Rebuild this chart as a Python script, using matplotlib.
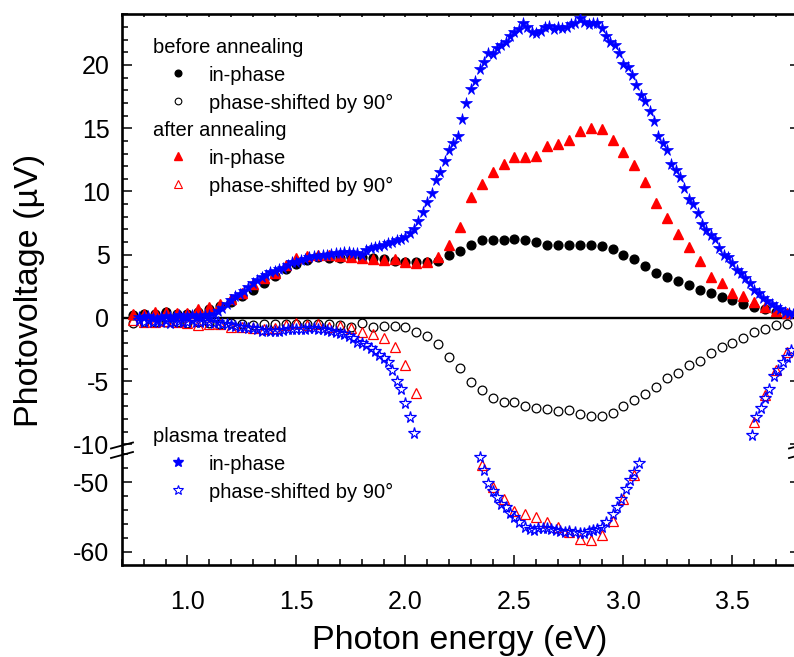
import numpy as np
import matplotlib
matplotlib.use("Agg")
import matplotlib.pyplot as plt
from matplotlib.lines import Line2D
from matplotlib.ticker import MultipleLocator

plt.rcParams["font.family"] = ["Liberation Sans", "DejaVu Sans"]
plt.rcParams["axes.unicode_minus"] = False

# ---- data (photon energy in eV, photovoltage in uV) ----
# before annealing, 0.75 .. 3.75 eV every 0.05
x_ann = np.round(np.arange(0.75, 3.76, 0.05), 2)
before_in = [0.25, 0.3, 0.35, 0.45, 0.35, 0.35, 0.5, 0.7, 0.95, 1.3,
             1.75, 2.2, 2.8, 3.3, 3.85, 4.3, 4.6, 4.85, 4.72, 4.77,
             4.85, 4.8, 4.72, 4.64, 4.53, 4.45, 4.45, 4.45, 4.5, 4.98,
             5.32, 5.77, 6.17, 6.17, 6.17, 6.22, 6.17, 6.0, 5.74, 5.79,
             5.74, 5.77, 5.77, 5.69, 5.43, 4.98, 4.69, 4.11, 3.58, 3.27,
             2.92, 2.58, 2.21, 1.95, 1.69, 1.42, 1.13, 0.90, 0.69, 0.50,
             0.32]
before_90 = [-0.4, -0.3, -0.35, -0.3, -0.35, -0.4, -0.35, -0.4, -0.45, -0.4,
             -0.5, -0.55, -0.47, -0.47, -0.47, -0.47, -0.47, -0.47, -0.47, -0.55,
             -0.69, -0.42, -0.69, -0.63, -0.63, -0.69, -1.08, -1.42, -2.03, -3.06,
             -3.95, -5.03, -5.69, -6.35, -6.67, -6.67, -6.96, -7.09, -7.19, -7.35,
             -7.27, -7.61, -7.75, -7.72, -7.53, -7.0, -6.48, -6.0, -5.43, -4.72,
             -4.37, -3.72, -3.37, -2.79, -2.32, -2.0, -1.56, -1.13, -0.9, -0.58,
             -0.47]

# after annealing
after_in = [0.32, 0.32, 0.45, 0.5, 0.37, 0.37, 0.69, 0.9, 1.08, 1.5,
            1.95, 2.69, 3.19, 3.58, 4.19, 4.72, 4.92, 4.98, 4.98, 4.9,
            4.85, 4.77, 4.64, 4.59, 4.64, 4.45, 4.37, 4.45, 4.8, 5.77,
            7.2, 9.59, 10.59, 11.52, 12.2, 12.75, 12.75, 12.8, 13.62, 13.75,
            14.04, 14.78, 15.04, 14.94, 14.07, 13.1, 12.09, 10.77, 9.07, 7.88,
            6.61, 5.59, 4.53, 3.22, 2.79, 2.0, 1.74, 1.29, 0.85, 0.58,
            0.37]
x_after_90 = [0.75, 0.8, 0.85, 0.9, 0.95, 1.0, 1.05, 1.1, 1.15, 1.2,
              1.25, 1.3, 1.35, 1.4, 1.45, 1.5, 1.55, 1.6, 1.65, 1.7,
              1.75, 1.8, 1.85, 1.9, 1.95, 2.0, 2.05,
              2.35, 2.4, 2.45, 2.5, 2.55, 2.6, 2.65, 2.7, 2.75, 2.8,
              2.85, 2.9, 2.95, 3.0, 3.05,
              3.6, 3.65, 3.7, 3.75]
after_90 = [-0.2, -0.35, -0.3, -0.25, -0.35, -0.4, -0.55, -0.47, -0.5, -0.69,
            -0.69, -0.82, -0.9, -0.82, -0.55, -0.37, -0.55, -0.47, -0.69, -0.6,
            -0.77, -1.08, -1.29, -1.56, -2.27, -3.72, -5.95,
            -47.57, -50.67, -52.48, -54.1, -54.57, -55.05, -55.67, -56.38, -57.1, -58.19,
            -58.29, -57.62, -55.52, -52.43, -49.0,
            -8.2, -6.09, -4.11, -2.66]

# plasma treated, in-phase, 0.78 .. 3.78 eV every 0.02
x_plasma = np.round(np.arange(0.78, 3.781, 0.02), 2)
plasma_in = [0.1, 0.05, 0.15, 0.0, -0.05, 0.1, 0.15, 0.05, 0.1, 0.2,
             0.1, 0.15, 0.2, 0.1, 0.15, 0.2, 0.25, 0.3, 0.55, 0.8,
             1.1, 1.4, 1.7, 1.9, 2.15, 2.45, 2.75, 3.0, 3.2, 3.4,
             3.6, 3.75, 3.85, 3.95, 4.2, 4.4, 4.45, 4.55, 4.65, 4.8,
             4.88, 4.92, 4.98, 5.0, 5.05, 5.1, 5.12, 5.18, 5.22, 5.15,
             5.1, 4.98, 5.4, 5.5, 5.6, 5.7, 5.8, 5.9, 6.0, 6.15,
             6.25, 6.4, 6.75, 7.0, 7.7, 8.4, 9.2, 9.85, 10.9, 11.57,
             12.41, 13.28, 13.86, 14.41, 15.7, 17.02, 18.08, 18.76, 19.66, 20.21,
             20.97, 20.87, 21.32, 21.58, 21.84, 22.29, 22.58, 22.82, 23.3, 23.03,
             22.63, 22.55, 22.71, 22.98, 23.08, 22.82, 23.03, 22.9, 22.98, 23.24,
             23.34, 23.69, 23.42, 23.24, 23.34, 23.3, 22.9, 22.29, 21.84, 21.58,
             20.97, 20.08, 19.87, 19.21, 18.42, 17.63, 17.18, 16.36, 15.6, 14.39,
             13.86, 13.28, 12.15, 11.7, 11.12, 10.25, 9.38, 9.01, 8.28, 7.43,
             6.96, 6.56, 6.22, 5.51, 4.98, 4.8, 4.32, 3.79, 3.58, 3.19,
             2.79, 2.21, 2.0, 1.6, 1.37, 1.11, 0.9, 0.69, 0.5, 0.4,
             0.35]

# plasma treated, phase-shifted by 90 deg
x_plasma_90 = [0.78, 0.8, 0.82, 0.84, 0.86, 0.88, 0.9, 0.92, 0.94, 0.96,
               0.98, 1.0, 1.02, 1.04, 1.06, 1.08, 1.1, 1.12, 1.14, 1.16,
               1.18, 1.2, 1.22, 1.24, 1.26, 1.28, 1.3, 1.32, 1.34, 1.36,
               1.38, 1.4, 1.42, 1.44, 1.46, 1.48, 1.5, 1.52, 1.54, 1.56,
               1.58, 1.6, 1.62, 1.64, 1.66, 1.68, 1.7, 1.72, 1.74, 1.76,
               1.78, 1.8, 1.82, 1.84, 1.86, 1.88, 1.9, 1.92, 1.94, 1.96,
               1.98, 2.0, 2.02, 2.04,
               2.34, 2.36, 2.38, 2.4, 2.42, 2.44, 2.46, 2.48, 2.5, 2.52,
               2.55, 2.57, 2.59, 2.61, 2.63, 2.65, 2.67, 2.69, 2.71, 2.73,
               2.75, 2.78, 2.8, 2.82, 2.84, 2.86, 2.88, 2.9, 2.92, 2.95,
               2.97, 2.99, 3.01, 3.03, 3.05, 3.07,
               3.59, 3.61, 3.63, 3.65, 3.67, 3.69, 3.71, 3.73, 3.75, 3.77]
plasma_90 = [-0.2, -0.3, -0.15, -0.35, -0.25, -0.3, -0.2, -0.4, -0.3, -0.25,
             -0.35, -0.3, -0.2, -0.3, -0.35, -0.25, -0.3, -0.4, -0.35, -0.45,
             -0.5, -0.55, -0.6, -0.7, -0.75, -0.8, -0.82, -0.9, -1.0, -0.95,
             -1.05, -1.0, -1.0, -0.95, -0.9, -0.9, -0.85, -0.9, -0.85, -0.8,
             -0.82, -0.85, -0.9, -0.95, -1.0, -1.08, -1.15, -1.26, -1.45, -1.6,
             -1.87, -1.95, -2.13, -2.35, -2.6, -2.92, -3.2, -3.45, -4.1, -5.0,
             -5.6, -6.7, -7.8, -9.06,
             -46.47, -48.29, -50.19, -51.24, -52.1, -53.14, -53.52, -54.48, -54.95, -55.67,
             -56.38, -56.76, -56.86, -56.62, -56.62, -56.62, -56.76, -56.86, -57.0, -57.1,
             -57.0, -57.1, -57.33, -57.24, -57.0, -56.86, -56.76, -56.38, -55.67, -54.62,
             -53.52, -52.48, -51.05, -49.71, -48.52, -47.24,
             -9.25, -7.8, -7.14, -6.3, -5.64, -4.58, -4.11, -3.45, -3.06, -2.53]

# ---- figure in pixel layout ----
W, H = 794, 657
fig = plt.figure(figsize=(W / 100, H / 100), dpi=100)


def fx(px):
    return px / W


def fy(py):
    return 1 - py / H


left, right = 122, 800
ax_top = fig.add_axes([fx(left), fy(449), fx(right) - fx(left), fy(14) - fy(449)])
ax_bot = fig.add_axes([fx(left), fy(565), fx(right) - fx(left), fy(451) - fy(565)])

for ax in (ax_top, ax_bot):
    ax.plot(x_ann, before_in, "o", ms=6.3, color="black", mec="black", zorder=3)
    ax.plot(x_ann, before_90, "o", ms=6.3, mfc="none", mec="black", mew=0.9, zorder=3)
    ax.plot(x_ann, after_in, "^", ms=7, color="red", mec="red", zorder=4)
    ax.plot(x_after_90, after_90, "^", ms=7, mfc="none", mec="red", mew=0.9, zorder=4)
    ax.plot(x_plasma, plasma_in, "*", ms=8.5, color="blue", mec="blue", mew=0.5, zorder=5)
    ax.plot(x_plasma_90, plasma_90, "*", ms=8.5, mfc="none", mec="blue", mew=0.9, zorder=5)
    ax.set_xlim(0.7, 0.7 + (right - left) / 218)
    for s in ax.spines.values():
        s.set_linewidth(1.9)
    ax.xaxis.set_major_locator(MultipleLocator(0.5))
    ax.xaxis.set_minor_locator(MultipleLocator(0.1))
    ax.tick_params(which="both", direction="in", width=1.1, labelsize=18)
    ax.tick_params(axis="y", which="major", length=7.5, pad=9)
    ax.tick_params(axis="y", which="minor", length=4.5)
    ax.tick_params(axis="y", right=True, which="both")

ax_top.axhline(0, color="black", lw=1.7, zorder=2)
ax_top.set_ylim(-10.36, 24.03)
ax_top.set_yticks([-10, -5, 0, 5, 10, 15, 20])
ax_top.yaxis.set_minor_locator(MultipleLocator(1))
ax_top.spines["bottom"].set_visible(False)
ax_top.tick_params(axis="x", which="both", bottom=False, labelbottom=False,
                   top=True, length=2.5)

ax_bot.set_ylim(-61.86, -45.57)
ax_bot.set_yticks([-60, -50])
ax_bot.yaxis.set_minor_locator(MultipleLocator(2))
ax_bot.spines["top"].set_visible(False)
ax_bot.tick_params(axis="x", which="major", length=7.5, pad=18)
ax_bot.tick_params(axis="x", which="minor", length=4, pad=18)
ax_bot.set_xticks([1.0, 1.5, 2.0, 2.5, 3.0, 3.5])
ax_bot.set_xticklabels(["1.0", "1.5", "2.0", "2.5", "3.0", "3.5"])

# axis break marks
for xc in (left, right):
    for yc in (445.5, 455):
        fig.add_artist(Line2D([fx(xc - 11), fx(xc + 11)], [fy(yc + 3), fy(yc - 3)],
                              color="black", lw=1.3, transform=fig.transFigure))

fig.text(fx(460), fy(641), "Photon energy (eV)", ha="center", va="center", fontsize=24.5)
fig.text(fx(30), fy(290), "Photovoltage (\u00b5V)", ha="center", va="center",
         rotation=90, fontsize=24.5)

# legend drawn as text blocks
fs = 14.5
leg = [
    (53, "before annealing", None),
    (81, "in-phase", dict(marker="o", color="black", mfc="black", mec="black", ms=4.8)),
    (109, "phase-shifted by 90\u00b0", dict(marker="o", color="black", mfc="none", mec="black", ms=4.8, mew=0.8)),
    (136, "after annealing", None),
    (164, "in-phase", dict(marker="^", color="red", mfc="red", mec="red", ms=5.3)),
    (192, "phase-shifted by 90\u00b0", dict(marker="^", color="red", mfc="none", mec="red", ms=5.3, mew=0.8)),
    (442, "plasma treated", None),
    (470, "in-phase", dict(marker="*", color="blue", mfc="blue", mec="blue", ms=7)),
    (498, "phase-shifted by 90\u00b0", dict(marker="*", color="blue", mfc="none", mec="blue", ms=7, mew=0.8)),
]
for yb, label, mk in leg:
    if mk is None:
        fig.text(fx(153), fy(yb), label, ha="left", va="baseline", fontsize=fs)
    else:
        fig.add_artist(Line2D([fx(177.5)], [fy(yb - 8.5)], linestyle="none",
                              transform=fig.transFigure, **mk))
        fig.text(fx(209), fy(yb), label, ha="left", va="baseline", fontsize=fs)

fig.savefig("out.png", dpi=100)
